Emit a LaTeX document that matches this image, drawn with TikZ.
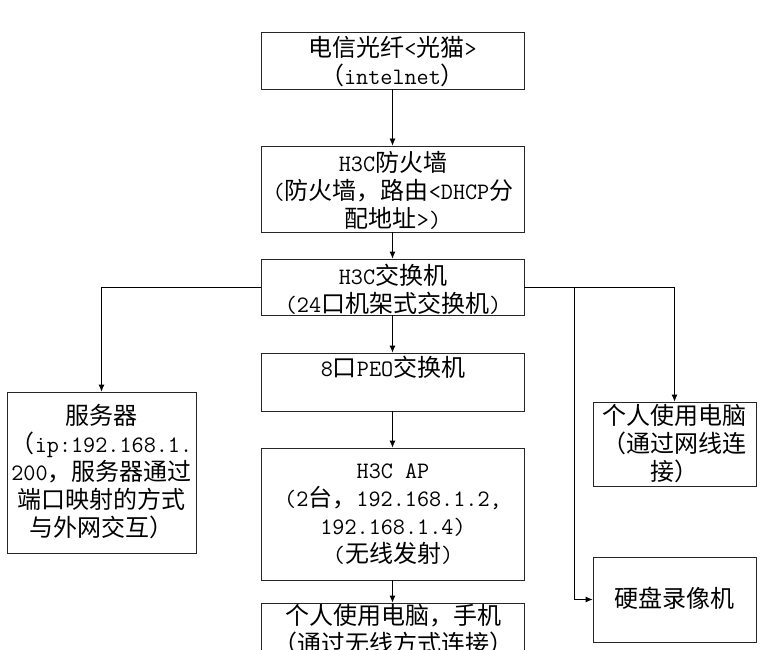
\documentclass[tikz,border=0pt]{standalone}
\usepackage{fontspec}
\setmainfont{Latin Modern Mono}[Scale=0.98]
\newfontfamily\cjk{Noto Sans CJK SC}
\usetikzlibrary{arrows.meta}
\newcommand\zhtxt[1]{{\cjk #1}}
\begin{document}
\begin{tikzpicture}[x=1pt,y=-1pt,
  box/.style={draw=black!85,line width=0.8pt,inner sep=0pt,rectangle},
  txt/.style={align=center,inner sep=0pt,font=\fontsize{24}{28}\selectfont,text=black},
  conn/.style={draw=black,line width=0.8pt},
  arr/.style={conn,-{Latex[length=7pt,width=6pt]}}]
\useasboundingbox (0,0) rectangle (763,650);
\clip (0,0) rectangle (763,650);
\fill[white] (0,0) rectangle (763,650);
% boxes
\node[box,minimum width=263pt,minimum height=57pt] (b1) at (392.5,60.5) {};
\node[box,minimum width=263pt,minimum height=86pt] (b2) at (392.5,189) {};
\node[box,minimum width=263pt,minimum height=56pt] (b3) at (392.5,287) {};
\node[box,minimum width=263pt,minimum height=58pt] (b4) at (392.5,382) {};
\node[box,minimum width=263pt,minimum height=132pt] (b5) at (392.5,514) {};
\node[box,minimum width=263pt,minimum height=67pt] (b6) at (392.5,636.5) {};
\node[box,minimum width=189pt,minimum height=161pt] (srv) at (101.5,472.5) {};
\node[box,minimum width=163pt,minimum height=84pt] (pc) at (674.5,444) {};
\node[box,minimum width=163pt,minimum height=85pt] (nvr) at (674.5,599.5) {};
% texts
\node[txt] (t1) at (392.5,61.5) {\zhtxt{电信光纤}<\zhtxt{光猫}>\\\zhtxt{（}intelnet\zhtxt{）}};
\node[txt] (t2) at (393,190) {H3C\zhtxt{防火墙}\\(\zhtxt{防火墙，路由}<DHCP\zhtxt{分}\\\zhtxt{配地址}>)};
\node[txt] (t3) at (393,289) {H3C\zhtxt{交换机}\\(24\zhtxt{口机架式交换机})};
\node[txt] (t4) at (393,367) {8\zhtxt{口}PEO\zhtxt{交换机}};
\node[txt] (t5) at (393,514) {H3C AP\\(2\zhtxt{台，}192.168.1.2,\\192.168.1.4)\\(\zhtxt{无线发射})};
\node[txt] (t6) at (393,630) {\zhtxt{个人使用电脑，手机}\\\zhtxt{（通过无线方式连接）}};
\node[txt] (ts) at (101.5,471.5) {\zhtxt{服务器}\\\zhtxt{（}ip:192.168.1.\\200\zhtxt{，服务器通过}\\\zhtxt{端口映射的方式}\\\zhtxt{与外网交互）}};
\node[txt] (tp) at (674.5,444) {\zhtxt{个人使用电脑}\\\zhtxt{（通过网线连}\\\zhtxt{接）}};
\node[txt] (tn) at (674.5,598) {\zhtxt{硬盘录像机}};
% connectors
\draw[arr] (b1) -- (b2);
\draw[arr] (b2) -- (b3);
\draw[arr] (b3) -- (b4);
\draw[arr] (b4) -- (b5);
\draw[arr] (b5) -- (b6);
\draw[arr] (b3.west) -| (srv.north);
\draw[arr] (b3.east) -| (pc.north);
\coordinate (j) at (574,287);
\draw[arr] (j) |- (nvr.west);
\end{tikzpicture}
\end{document}
